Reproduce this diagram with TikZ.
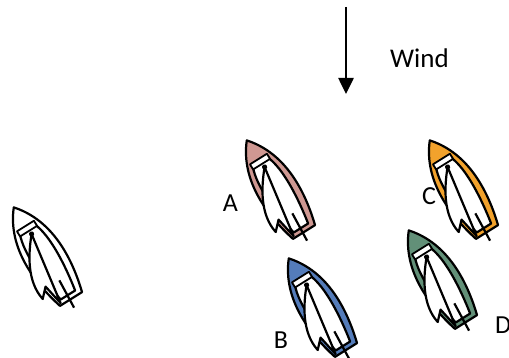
\documentclass[tikz,border=0pt]{standalone}
\usepackage{fontspec}
\setmainfont{Carlito}
\usetikzlibrary{arrows.meta}

\definecolor{rimA}{RGB}{207,152,146}
\definecolor{rimB}{RGB}{84,124,186}
\definecolor{rimC}{RGB}{242,162,44}
\definecolor{rimD}{RGB}{98,144,120}

\tikzset{
  outline/.style={draw=black, line width=2.2pt, line join=round},
  label/.style={font=\fontsize{26}{30}\selectfont, inner sep=0pt},
  % dinghy seen from above: stern centre at the origin, bow along +y
  pics/boat/.style={code={
    % hull
    \path[outline, fill=#1] (-13,0) -- (13,0)
      .. controls (22,32) and (27,76) .. (0,108)
      .. controls (-27,76) and (-22,32) .. (-13,0) -- cycle;
    % cockpit
    \path[outline, fill=white] (-9,5) -- (8,5)
      .. controls (13,32) and (16,64) .. (9,82) -- (-9,82)
      .. controls (-16,64) and (-14,32) .. (-9,5) -- cycle;
    % thwart at the front of the cockpit
    \path[outline, fill=white, line width=1.8pt] (-10,80) rectangle (10,86);
    % sail and boom
    \path[outline, fill=white] (1,76)
      .. controls (-13,60) and (-28,38) .. (-24,15)
      -- (-15,24) -- (-11,2) -- cycle;
    % mast
    \fill (1,76) circle (2.6);
    % tiller
    \draw[line width=2.2pt] (0,22) -- (-2,-9);
  }}
}

\begin{document}
\begin{tikzpicture}[x=1pt, y=1pt]
  \useasboundingbox[fill=white] (0,0) rectangle (509,358);

  % wind arrow
  \coordinate (windtop) at (346,351);
  \coordinate (windtip) at (346,264);
  \draw[line width=2.6pt, -{Triangle[length=16pt, width=15pt]}] (windtop) -- (windtip);
  \node[label, font=\fontsize{27}{30}\selectfont, anchor=base west] (wind) at (390,290) {Wind};

  % boats
  \pic[rotate=32] at (71,59)  {boat=white};
  \pic[rotate=32] at (304,126) {boat=rimA};
  \pic[rotate=32] at (487,126) {boat=rimC};
  \pic[rotate=32] at (466,36)  {boat=rimD};
  \pic[rotate=32] at (346,8)   {boat=rimB};

  % boat letters
  \node[label] (la) at (230.5,155) {A};
  \node[label] (lb) at (281,18) {B};
  \node[label] (lc) at (429,162) {C};
  \node[label, anchor=west] (ld) at (495,33) {D};
\end{tikzpicture}
\end{document}
